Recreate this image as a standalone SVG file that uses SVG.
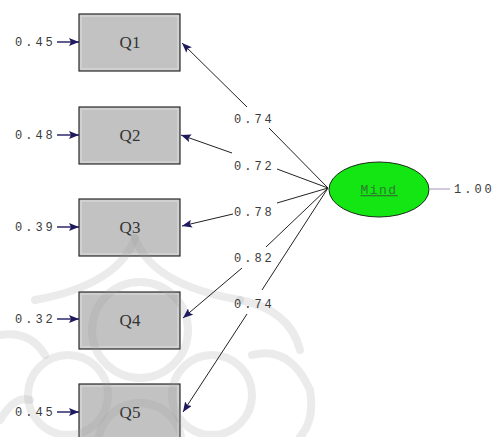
<svg xmlns="http://www.w3.org/2000/svg" width="494" height="437" viewBox="0 0 494 437">
  <defs>
    <marker id="head" viewBox="0 0 10 8" refX="10" refY="4" markerWidth="10" markerHeight="8" markerUnits="userSpaceOnUse" orient="auto">
      <path d="M0,0 L10,4 L0,8 L2,4 Z" fill="#1f1a5e"/>
    </marker>
    <style>
      .box { fill: #c2c2c2; stroke: #2a2a2a; stroke-width: 1.2; }
      .inner { fill: none; stroke: #dedede; stroke-width: 1; }
      .qlab { font-family: "Liberation Serif", serif; font-size: 17px; fill: #333; text-anchor: middle; }
      .num { font-family: "Liberation Mono", monospace; font-size: 12px; fill: #3a3a3a; letter-spacing: 3px; }
      .edge { stroke: #222; stroke-width: 1; fill: none; }
      .err { stroke: #1f1a5e; stroke-width: 1.4; fill: none; }
      .mark { fill: none; stroke: #9a9a9a; stroke-width: 8; opacity: 0.2; stroke-linecap: round; }
    </style>
  </defs>
  <rect width="494" height="437" fill="#ffffff"/>

  <!-- indicator boxes -->
  <g id="Q1"><rect class="box" x="79" y="14" width="101" height="57"/><rect class="inner" x="81" y="16" width="97" height="53"/><text class="qlab" x="130" y="48">Q1</text></g>
  <g id="Q2"><rect class="box" x="79" y="107" width="101" height="57"/><rect class="inner" x="81" y="109" width="97" height="53"/><text class="qlab" x="130" y="141">Q2</text></g>
  <g id="Q3"><rect class="box" x="79" y="199" width="101" height="57"/><rect class="inner" x="81" y="201" width="97" height="53"/><text class="qlab" x="130" y="233">Q3</text></g>
  <g id="Q4"><rect class="box" x="79" y="292" width="101" height="57"/><rect class="inner" x="81" y="294" width="97" height="53"/><text class="qlab" x="130" y="326">Q4</text></g>
  <g id="Q5"><rect class="box" x="79" y="384" width="101" height="57"/><rect class="inner" x="81" y="386" width="97" height="53"/><text class="qlab" x="130" y="418">Q5</text></g>

  <!-- ornamental background motif -->
  <g id="ornament">
    <path class="mark" d="M135,238 Q118,285 35,300"/>
    <path class="mark" d="M135,238 Q152,285 240,300"/>
    <circle class="mark" cx="140" cy="330" r="48"/>
    <circle class="mark" cx="68" cy="395" r="40"/>
    <circle class="mark" cx="212" cy="395" r="40"/>
    <circle class="mark" cx="140" cy="445" r="42"/>
    <path class="mark" d="M0,335 Q30,330 45,355"/>
    <path class="mark" d="M240,300 Q290,310 300,350"/>
    <path class="mark" d="M252,355 Q290,345 310,390 Q315,420 300,437"/>
    <path class="mark" d="M0,420 Q15,395 30,400"/>
  </g>

  <!-- loadings and error terms -->
  <g id="connectors">
    <path class="edge" d="M269,128 L328,188"/>
    <path class="edge" d="M247,107 L182,43" marker-end="url(#head)"/>
    <path class="edge" d="M277,169 L328,188"/>
    <path class="edge" d="M232,153 L181,135" marker-end="url(#head)"/>
    <path class="edge" d="M277,203 L328,188"/>
    <path class="edge" d="M233,214 L182,226" marker-end="url(#head)"/>
    <path class="edge" d="M266,247 L328,188"/>
    <path class="edge" d="M242,268 L183,318" marker-end="url(#head)"/>
    <path class="edge" d="M262,290 L328,188"/>
    <path class="edge" d="M247,314 L183,412" marker-end="url(#head)"/>
    <path d="M430,189 L450,189" stroke="#b4a6cc" stroke-width="1.2"/>

    <path class="err" d="M57,42 L79,42" marker-end="url(#head)"/>
    <path class="err" d="M57,135 L79,135" marker-end="url(#head)"/>
    <path class="err" d="M57,227 L79,227" marker-end="url(#head)"/>
    <path class="err" d="M57,319 L79,319" marker-end="url(#head)"/>
    <path class="err" d="M57,412 L79,412" marker-end="url(#head)"/>

    <text class="num" x="234" y="123">0.74</text>
    <text class="num" x="234" y="170">0.72</text>
    <text class="num" x="234" y="216">0.78</text>
    <text class="num" x="234" y="262">0.82</text>
    <text class="num" x="234" y="308">0.74</text>

    <text class="num" x="15" y="46">0.45</text>
    <text class="num" x="15" y="139">0.48</text>
    <text class="num" x="15" y="231">0.39</text>
    <text class="num" x="15" y="323">0.32</text>
    <text class="num" x="15" y="416">0.45</text>
    <text class="num" x="454" y="193">1.00</text>
  </g>

  <!-- latent factor -->
  <g id="Mind">
    <ellipse cx="379" cy="189.5" rx="50" ry="27.5" fill="#14e614" stroke="#1d2a1d" stroke-width="1"/>
    <text x="379" y="194" text-anchor="middle" font-family="Liberation Mono, monospace" font-size="13" letter-spacing="1.5" fill="#2e7a2e" text-decoration="underline">Mind</text>
  </g>
</svg>
